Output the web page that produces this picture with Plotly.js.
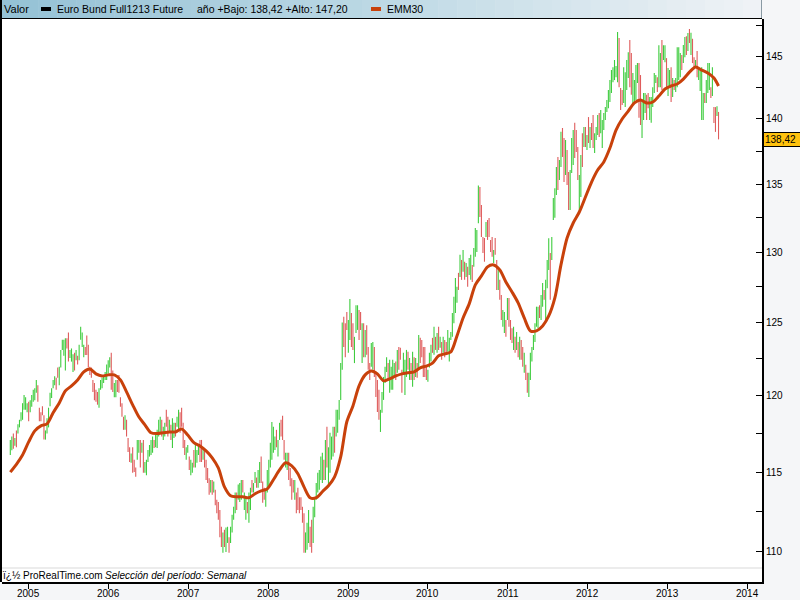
<!DOCTYPE html>
<html><head><meta charset="utf-8">
<script src="https://cdn.plot.ly/plotly-3.0.1.min.js"></script>
<style>html,body{margin:0;padding:0;background:#f5f6f8;}#chart{width:800px;height:600px;}</style>
</head><body><div id="chart"></div>
<script>
// ---- data (weekly bars, Euro Bund future) ----
const startWeek = '2004-10-08';
const high = [
117.08,117.30,117.50,117.20,117.70,118.10,118.40,118.90,119.50,120.05,
119.90,119.50,119.60,119.70,120.05,120.40,120.50,121.06,120.70,119.20,
118.90,119.30,118.70,117.70,118.50,119.20,120.20,120.50,121.06,121.30,
121.20,121.90,121.95,123.10,123.80,123.80,123.90,123.90,124.30,123.10,
123.20,122.80,122.90,123.10,122.70,123.45,124.70,124.30,123.45,123.30,
124.10,123.45,121.95,121.90,121.06,120.85,120.40,120.25,120.50,121.06,
121.20,121.40,121.60,122.10,122.40,122.60,122.90,121.70,120.85,121.06,
121.06,121.40,119.90,119.50,118.60,118.70,118.40,117.20,116.60,116.20,
116.60,115.80,115.30,117.08,117.08,117.08,116.90,117.08,115.65,115.80,
116.43,116.75,117.08,117.30,117.08,117.60,117.74,118.40,118.60,118.40,
117.95,118.20,119.06,118.60,118.40,118.07,118.50,118.20,118.20,118.60,
119.06,118.90,119.20,118.20,117.08,116.60,116.75,116.00,115.80,115.60,
116.43,116.90,116.43,116.75,117.08,117.08,116.60,116.43,115.80,115.27,
114.60,114.50,114.50,114.40,113.87,113.24,113.10,112.60,111.55,111.20,
111.36,111.50,111.55,110.90,111.55,112.30,112.80,113.70,113.70,114.20,
114.30,114.50,114.50,113.70,113.40,113.10,113.70,114.00,114.50,114.30,
115.00,114.65,115.14,115.65,116.00,114.40,114.00,113.87,115.14,115.80,
116.90,118.25,117.95,117.30,117.74,117.08,118.20,118.40,118.66,117.08,
116.25,116.25,116.25,115.27,114.60,114.50,114.50,113.70,114.00,113.40,
113.40,112.80,112.40,111.20,111.80,112.60,111.55,111.98,112.80,113.40,
114.30,114.95,115.14,116.00,116.25,115.80,117.08,117.95,116.60,117.55,
117.30,117.95,117.95,119.06,119.06,119.72,122.20,125.00,125.40,124.95,
125.73,125.17,126.65,125.66,124.95,124.00,126.20,126.20,125.87,125.73,
124.95,124.95,124.48,124.80,123.30,122.20,123.58,123.65,123.30,121.54,
121.06,120.39,119.06,120.25,121.26,121.95,122.60,122.20,122.42,121.95,
122.42,122.20,122.30,123.10,123.30,123.24,121.74,122.90,122.42,123.10,
122.97,122.55,122.20,122.97,122.60,122.55,122.20,124.13,123.93,123.79,
123.30,123.30,121.95,121.74,122.90,123.45,123.93,124.70,124.00,124.27,
124.70,124.00,123.65,124.00,123.79,123.65,124.48,123.93,124.34,125.66,
126.80,128.13,127.50,128.50,129.80,129.43,130.15,129.30,129.20,128.93,
129.57,129.80,129.07,130.30,131.75,131.60,134.90,134.80,133.45,131.10,
131.02,132.20,132.34,132.48,130.88,131.10,130.15,131.02,129.43,128.71,
128.00,126.93,125.87,125.73,125.17,126.72,126.72,125.17,124.60,124.70,
124.00,124.34,123.65,124.00,123.79,123.30,122.90,122.08,121.54,121.54,
122.90,123.30,124.13,124.95,126.10,126.10,126.20,126.93,127.78,127.28,
128.00,129.43,131.00,129.93,131.10,133.97,134.70,136.30,137.07,136.84,
139.00,139.30,138.52,138.37,137.60,135.93,136.08,138.52,139.14,139.70,
139.14,137.83,135.70,137.22,138.90,139.37,139.37,138.75,140.15,139.37,
139.68,140.31,138.90,139.37,140.31,140.47,140.70,139.92,140.47,140.93,
141.49,142.28,143.07,143.87,144.10,144.68,144.20,146.95,146.46,142.44,
142.28,144.10,143.70,144.68,145.30,146.30,145.24,143.63,143.07,144.27,
144.43,144.43,143.47,141.49,142.05,142.05,141.90,142.05,141.73,141.73,
142.50,143.63,143.47,143.30,145.87,145.24,146.30,145.87,145.87,144.83,
144.04,143.87,144.10,143.23,143.07,143.23,145.70,145.70,145.24,145.08,
145.90,146.54,146.60,146.86,147.20,146.90,146.40,144.90,144.68,145.40,
144.10,144.00,144.10,142.05,142.05,143.07,144.43,144.43,142.50,144.10,
140.93,140.93,141.00,140.55];
const low = [
116.10,116.40,116.50,116.70,116.60,117.50,117.90,118.30,118.40,119.06,
119.06,118.90,118.30,118.90,119.26,119.60,119.70,120.20,119.60,118.30,
118.30,118.70,117.10,117.10,117.50,117.90,119.30,119.85,120.50,120.70,
120.40,121.20,120.70,121.90,123.10,122.70,121.70,123.20,122.30,122.55,
122.30,121.60,121.70,122.40,122.10,122.40,123.80,123.30,122.60,122.75,
122.75,121.90,121.40,121.20,120.25,119.70,119.60,119.40,119.20,120.40,
120.50,120.85,121.06,121.06,121.50,121.90,120.40,120.25,119.90,119.90,
120.25,120.20,119.26,118.60,117.74,117.74,117.30,116.30,115.65,115.60,
114.95,115.00,114.70,115.80,116.25,115.30,116.25,114.95,114.95,114.80,
115.65,116.00,116.10,116.25,116.55,116.60,116.55,117.30,117.55,117.30,
117.08,117.30,117.95,117.30,117.60,117.08,116.55,117.20,117.30,117.95,
117.74,117.55,117.95,116.55,116.10,115.80,116.25,115.14,114.80,114.95,
115.30,115.30,115.60,116.10,115.65,115.65,115.80,115.30,114.50,114.30,
113.55,113.70,113.55,113.70,112.90,112.40,111.98,110.90,110.30,109.95,
110.30,110.00,110.55,109.95,110.55,111.20,111.98,112.40,112.60,113.24,
113.10,113.24,113.70,112.60,111.98,112.40,111.80,112.60,113.70,113.70,
114.30,114.00,114.00,114.30,114.30,113.05,113.24,112.80,113.70,114.10,
115.30,115.80,116.25,116.43,116.60,116.00,117.08,117.30,117.08,115.80,
115.30,115.14,114.50,114.10,113.24,113.70,113.24,112.40,112.60,112.40,
112.60,111.80,109.95,109.95,110.13,110.55,110.30,109.95,110.55,112.15,
113.24,113.70,113.87,114.50,114.30,114.50,114.50,115.30,114.10,114.95,
115.80,116.00,116.25,117.30,117.55,118.40,119.72,121.74,123.30,122.60,
124.48,122.90,123.79,123.30,123.10,122.20,124.27,124.48,123.79,124.48,
122.20,122.60,122.60,122.77,121.74,121.06,121.95,121.74,121.26,119.92,
118.92,118.40,117.60,118.86,119.72,120.85,121.60,121.06,120.20,120.39,
120.39,121.26,121.06,121.54,121.74,122.42,120.20,121.54,120.05,121.26,
121.74,121.06,121.06,120.60,121.06,121.26,121.20,121.74,122.20,122.60,
121.26,121.26,121.06,120.93,121.90,122.30,122.90,122.77,123.10,122.90,
123.10,123.24,122.42,122.90,122.60,122.77,122.97,122.30,123.79,124.00,
124.95,125.66,126.37,127.28,128.20,128.00,128.57,128.00,128.20,127.50,
128.35,128.00,127.85,128.93,129.65,130.00,132.10,132.56,131.10,129.93,
129.30,131.10,130.88,131.10,130.00,129.65,129.20,129.80,127.28,127.28,
126.58,125.17,124.70,124.27,124.00,125.17,124.70,123.79,123.58,123.10,
122.90,123.10,122.60,122.42,122.42,121.95,121.54,121.06,120.20,119.92,
121.06,122.30,123.10,123.65,124.70,124.60,125.30,125.17,126.10,126.58,
125.17,127.40,128.71,126.58,129.43,132.34,132.50,134.20,134.57,135.32,
136.30,137.07,135.17,135.70,134.95,133.08,133.08,135.85,136.46,137.00,
137.45,135.32,132.90,134.05,136.30,137.83,137.83,137.60,138.14,137.75,
138.37,137.75,137.37,138.37,138.75,138.60,138.90,137.75,139.14,139.92,
140.55,140.85,141.33,142.05,142.90,143.07,143.30,142.90,142.50,140.70,
141.10,141.26,140.93,142.28,143.23,142.50,141.90,141.26,141.26,141.49,
142.83,140.10,139.53,138.52,139.92,140.47,139.92,140.85,139.92,139.70,
140.93,142.05,142.83,142.13,142.50,142.50,142.28,144.68,144.50,142.50,
141.80,142.50,141.33,141.73,142.28,142.13,142.50,143.07,143.30,143.87,
144.43,144.90,145.08,145.40,146.05,145.08,144.43,144.10,144.10,143.30,
143.07,142.20,139.92,139.92,141.26,141.26,142.05,142.28,141.65,141.80,
139.68,139.00,140.24,138.42];
// g = rising week (green), r = falling week (red)
const weekDir =
 "ggrgrggggg ggrgggggrr rrrggggggg rrgggggrrg ggrgrggggr rrrrrrrrgg ggggggrrgg rrrrrgrrrg rrrggrgrgg ggggrggggr " +
 "ggrrgrggrg grrrrggrgg rgggrrgrrr rgrgrrrrrg rggrggggrg ggrggrggrg grggrrrggg ggggrggrrr ggrrrrgrrr rrrgggrrgg " +
 "gggggrgrgg ggrgggggrr rggrrgggrr grgrrrggrr rrgggggrgg ggrgrrrggg rgrgrgrgrr rrrgggrgrg rgrgrrgggg gggrgrgrgr " +
 "ggrggggrrr rgrrrrgrrg rrggrgrrrg rgrgrrgrrg ggggggrggr gggrggggrg grrgrrgggr rrggrgrgrg rrgggrgggg ggggggggrr " +
 "rggggrrggg grrgggrrgg gggrggrggr ggrgrggggr ggrgrgrrgr ggggrgggrg rrgr";
// EMM30 read every 4 weeks (plus the final week)
const ema30 = [
115.0,115.5,116.1,116.95,117.67,118.0,118.13,118.86,119.52,120.32,
120.66,121.06,121.6,121.8,121.47,121.33,121.4,121.4,121.06,120.25,
119.39,118.6,118.07,117.55,117.5,117.55,117.6,117.6,117.8,117.4,
116.9,116.69,116.37,115.92,115.27,114.06,113.5,113.43,113.43,113.37,
113.62,113.8,113.93,114.51,115.14,115.6,115.4,114.9,114.06,113.37,
113.37,113.75,114.13,114.7,115.98,118.27,119.32,120.66,121.4,121.67,
121.47,121.0,121.13,121.33,121.47,121.54,121.6,121.88,122.0,122.2,
122.7,122.83,122.97,124.06,125.31,126.3,127.64,128.28,128.93,129.07,
128.71,127.85,127.14,126.37,125.31,124.41,124.41,124.75,125.45,126.72,
129.07,131.02,132.12,132.93,134.05,135.17,136.08,136.69,137.75,139.14,
140.0,140.62,141.26,141.49,141.26,141.33,141.8,142.36,142.6,142.76,
143.15,143.7,144.12,143.87,143.63,143.23,142.6];
const emaStep = 4;
const yearTicks = ['2005','2006','2007','2008','2009','2010','2011','2012','2013','2014'];
const priceTicks = [110,115,120,125,130,135,140,145];
const priceMinor = [112.5,117.5,122.5,127.5,132.5,137.5,142.5,147.5];
const lastValue = 138.42;
const lastLabel = '138,42';
const headerName = 'Euro Bund Full1213 Future';
const headerInfo = 'año +Bajo: 138,42 +Alto: 147,20';

// ---- build ----
const N = high.length;
const dirArr = weekDir.replace(/\s+/g,'').split('');
const t0 = Date.parse(startWeek + 'T00:00:00Z');
const dates = [];
for (let i = 0; i < N; i++) dates.push(new Date(t0 + i*7*864e5).toISOString().slice(0,10));
const open = [], close = [];
for (let i = 0; i < N; i++) {
  const up = dirArr[i] === 'g';
  open.push(up ? low[i] : high[i]);
  close.push(up ? high[i] : low[i]);
}
const emaX = ema30.map((v,k) => dates[Math.min(k*emaStep, N-1)]);

const FONT = 'Liberation Sans, Arial, sans-serif';
const plotW = 760, plotH = 563, mL = 2, mT = 19;
const xp = px => (px - mL) / plotW;
const yp = py => 1 - (py - mT) / plotH;

const shapes = [];
// header gradient
const stops = [[0,[148,193,213]],[0.45,[184,214,227]],[1,[240,243,246]]];
function col(t){
  for (let s = 0; s < stops.length-1; s++){
    const a = stops[s], b = stops[s+1];
    if (t >= a[0] && t <= b[0]){
      const f = (t-a[0])/(b[0]-a[0]);
      const c = a[1].map((v,j)=>Math.round(v+(b[1][j]-v)*f));
      return 'rgb('+c.join(',')+')';
    }
  }
  return 'rgb(240,243,246)';
}
const strips = 40;
for (let k = 0; k < strips; k++){
  const x0 = k*762/strips, x1 = (k+1)*762/strips + 0.5;
  shapes.push({type:'rect', xref:'paper', yref:'paper', x0:xp(x0), x1:xp(Math.min(x1,762)), y0:yp(18), y1:yp(0),
    line:{width:0}, fillcolor:col((k+0.5)/strips), layer:'above'});
}
shapes.push({type:'line', xref:'paper', yref:'paper', x0:xp(0), x1:1, y0:yp(18.5), y1:yp(18.5), line:{color:'#000', width:1}, layer:'above'});
shapes.push({type:'line', xref:'paper', yref:'paper', x0:xp(761.5), x1:xp(761.5), y0:yp(18), y1:yp(0), line:{color:'#8a9aa4', width:1}, layer:'above'});
// legend swatches
shapes.push({type:'rect', xref:'paper', yref:'paper', x0:xp(41), x1:xp(51), y0:yp(11), y1:yp(7), line:{width:0}, fillcolor:'#000', layer:'above'});
shapes.push({type:'rect', xref:'paper', yref:'paper', x0:xp(371), x1:xp(381), y0:yp(11), y1:yp(7), line:{width:0}, fillcolor:'#c8410b', layer:'above'});
// frame left
shapes.push({type:'line', xref:'paper', yref:'paper', x0:xp(1), x1:xp(1), y0:0, y1:yp(0), line:{color:'#000', width:2}, layer:'above'});
// thin grey separator above footer strip
shapes.push({type:'line', xref:'paper', yref:'paper', x0:0, x1:1, y0:yp(568), y1:yp(568), line:{color:'#d9d9d9', width:1}, layer:'above'});

const baseFont = {family:FONT, size:10.5, color:'#000'};
const annotations = [
  {text:'Valor', x:xp(2), y:yp(9), xanchor:'left', yanchor:'middle', font:{size:11}},
  {text:headerName, x:xp(55), y:yp(9), xanchor:'left', yanchor:'middle'},
  {text:headerInfo, x:xp(195), y:yp(9), xanchor:'left', yanchor:'middle'},
  {text:'EMM30', x:xp(385), y:yp(9), xanchor:'left', yanchor:'middle'},
  {text:'ï¿½ ProRealTime.com', x:xp(1), y:yp(575.5), xanchor:'left', yanchor:'middle', font:{size:10}},
  {text:'<i>Selección del período: Semanal</i>', x:xp(103), y:yp(575.5), xanchor:'left', yanchor:'middle', font:{size:10}}
].map(a => Object.assign({xref:'paper', yref:'paper', showarrow:false}, a, {font:Object.assign({}, baseFont, a.font||{})}));
// year labels under the axis
yearTicks.forEach(y => annotations.push({xref:'x', yref:'paper', x:y+'-01-01', y:yp(593), xanchor:'center', yanchor:'middle',
  text:y, showarrow:false, font:{family:FONT, size:10, color:'#000'}}));
annotations.push({xref:'paper', yref:'y', x:1, xanchor:'left', xshift:1, y:Math.log10(lastValue), yanchor:'middle',
  text:lastLabel, showarrow:false, bgcolor:'#ffc20e', bordercolor:'#000', borderwidth:1, borderpad:1, width:34, align:'left',
  font:{family:FONT, size:10, color:'#000'}});

const traces = [
  {type:'ohlc', x:dates, open:open, high:high, low:low, close:close, tickwidth:0,
   increasing:{line:{color:'#3fcc3f', width:1.1}}, decreasing:{line:{color:'#df5c5c', width:1.1}},
   hoverinfo:'skip', showlegend:false},
  {type:'scatter', mode:'lines', x:emaX, y:ema30, line:{color:'#c8410b', width:3, shape:'spline', smoothing:0.8},
   hoverinfo:'skip', showlegend:false}
];

const layout = {
  width:800, height:600,
  margin:{l:mL, r:38, t:mT, b:18, pad:0},
  paper_bgcolor:'#f5f6f8', plot_bgcolor:'#ffffff',
  showlegend:false,
  font:{family:FONT, size:10, color:'#000'},
  xaxis:{type:'date', range:['2004-08-31','2014-03-10'], rangeslider:{visible:false},
    tickmode:'array', tickvals:yearTicks.map(y=>y+'-01-01'), ticktext:yearTicks, showticklabels:false,
    ticks:'outside', ticklen:5, tickcolor:'#000', tickwidth:1,
    showgrid:false, zeroline:false, showline:true, linecolor:'#000', linewidth:2, fixedrange:true},
  yaxis:{type:'log', side:'right', range:[Math.log10(108.17), Math.log10(148.02)],
    tickmode:'array', tickvals:priceTicks, ticktext:priceTicks.map(String),
    ticks:'inside', ticklen:6, tickcolor:'#000', tickwidth:1,
    minor:{tickvals:priceMinor, ticks:'inside', ticklen:6, tickcolor:'#000', tickwidth:1, showgrid:false},
    showgrid:false, zeroline:false, showline:true, linecolor:'#000', linewidth:2,
    tickfont:{family:FONT, size:10, color:'#000'}, fixedrange:true},
  shapes:shapes,
  annotations:annotations
};
Plotly.newPlot('chart', traces, layout, {staticPlot:true, displayModeBar:false});
</script></body></html>
